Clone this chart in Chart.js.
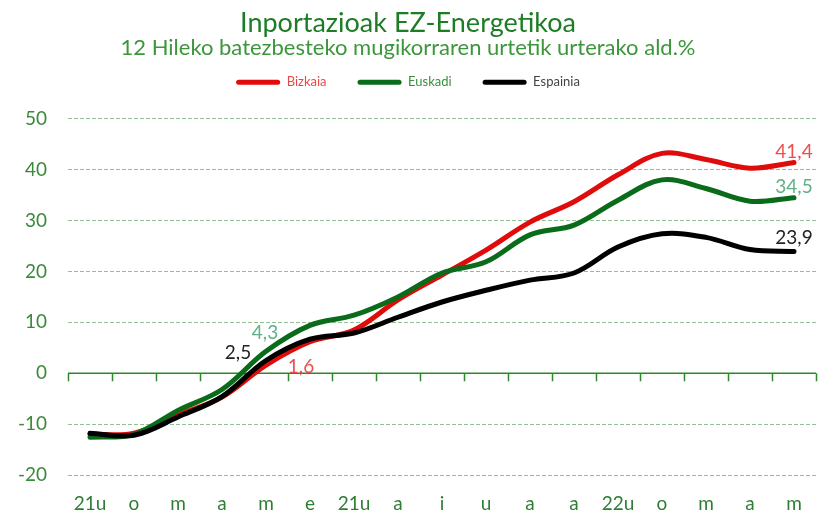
<!DOCTYPE html>
<html>
<head>
<meta charset="utf-8">
<script src="https://cdn.jsdelivr.net/npm/chart.js@4.4.1/dist/chart.umd.min.js"></script>
<style>
  html, body { margin: 0; padding: 0; background: #fff; }
</style>
</head>
<body>
<canvas id="myChart" width="819" height="516"></canvas>
<script>
// months, jan 2021 -> may 2022
var months = ['21u', 'o', 'm', 'a', 'm', 'e', '21u', 'a', 'i', 'u', 'a', 'a', '22u', 'o', 'm', 'a', 'm'];
var bizkaia = [-12.0, -11.8, -8.2, -4.7, 1.6, 6.2, 8.5, 14.4, 19.3, 24.2, 29.7, 33.7, 39.0, 43.2, 42.0, 40.3, 41.4];
var euskadi = [-12.6, -12.0, -7.3, -3.2, 4.3, 9.4, 11.4, 15.0, 19.7, 21.9, 27.2, 29.1, 34.0, 38.0, 36.3, 33.8, 34.5];
var espainia = [-11.8, -12.2, -8.6, -4.6, 2.5, 6.7, 7.9, 11.0, 14.0, 16.3, 18.3, 19.7, 24.8, 27.4, 26.7, 24.3, 23.9];
var yTicks = [-20, -10, 0, 10, 20, 30, 40, 50];

var FONT = 'Lato';

// zero line with little ticks between months
var zeroAxis = {
  id: 'zeroAxis',
  beforeDatasetsDraw: function(chart) {
    var ctx = chart.ctx, x = chart.scales.x, y = chart.scales.y;
    var y0 = y.getPixelForValue(0);
    var step = x.getPixelForValue(1) - x.getPixelForValue(0);
    ctx.save();
    ctx.strokeStyle = '#2a8a2a';
    ctx.lineWidth = 1.5;
    ctx.beginPath();
    ctx.moveTo(chart.chartArea.left, y0);
    ctx.lineTo(chart.chartArea.right, y0);
    for (var i = 0; i <= months.length; i++) {
      var px = Math.round(x.getPixelForValue(0) - step / 2 + i * step) + 0.5;
      ctx.moveTo(px, y0);
      ctx.lineTo(px, y0 + 8);
    }
    ctx.stroke();
    ctx.restore();
  }
};

// value labels on a few points
var pointLabels = {
  id: 'pointLabels',
  afterDatasetsDraw: function(chart) {
    var ctx = chart.ctx;
    ctx.save();
    ctx.font = '19px ' + FONT;
    ctx.textAlign = 'center';
    ctx.textBaseline = 'middle';
    chart.data.datasets.forEach(function(ds, d) {
      var meta = chart.getDatasetMeta(d);
      ds.valueLabels.forEach(function(l) {
        var pt = meta.data[l.i];
        ctx.fillStyle = ds.labelColor;
        ctx.fillText(ds.data[l.i].toFixed(1).replace('.', ','), pt.x + l.dx, pt.y + l.dy);
      });
    });
    ctx.restore();
  }
};

// legend needs some room below it
var legendSpace = {
  id: 'legendSpace',
  afterInit: function(chart) {
    var lg = chart.legend;
    var fit = lg.fit;
    lg.fit = function() {
      fit.call(this);
      this.height += 20;
    };
  }
};

var ctx = document.getElementById('myChart');
var config = {
  type: 'line',
  data: {
    labels: months,
    datasets: [
      {
        label: 'Bizkaia',
        data: bizkaia,
        borderColor: '#e00b0b',
        backgroundColor: '#e00b0b',
        textColor: '#e84848',
        labelColor: '#ee4d4d',
        valueLabels: [{ i: 4, dx: 35, dy: 2 }, { i: 16, dx: 0, dy: -11 }],
        order: 3
      },
      {
        label: 'Euskadi',
        data: euskadi,
        borderColor: '#0a6b1a',
        backgroundColor: '#0a6b1a',
        textColor: '#3a8f3a',
        labelColor: '#62b088',
        valueLabels: [{ i: 4, dx: -1, dy: -18 }, { i: 16, dx: 0, dy: -11 }],
        order: 2
      },
      {
        label: 'Espainia',
        data: espainia,
        borderColor: '#000000',
        backgroundColor: '#000000',
        textColor: '#444444',
        labelColor: '#222222',
        valueLabels: [{ i: 4, dx: -28, dy: -8 }, { i: 16, dx: 0, dy: -14 }],
        order: 1
      }
    ]
  },
  options: {
    responsive: false,
    maintainAspectRatio: false,
    animation: false,
    devicePixelRatio: 1,
    layout: { padding: { left: 0, right: 3, top: 0, bottom: 0 } },
    elements: {
      line: { tension: 0.35, borderWidth: 5, borderCapStyle: 'round', fill: false },
      point: { radius: 0, hoverRadius: 0 }
    },
    plugins: {
      title: {
        display: true,
        text: 'Inportazioak EZ-Energetikoa',
        color: '#1d7c25',
        font: { family: FONT, size: 27, weight: 'normal', lineHeight: 1.2 },
        padding: { top: 7, bottom: 0 }
      },
      subtitle: {
        display: true,
        text: '12 Hileko batezbesteko mugikorraren urtetik urterako ald.%',
        color: '#3c963c',
        font: { family: FONT, size: 22, weight: 'normal', lineHeight: 1.2 },
        padding: { top: -5, bottom: -16 }
      },
      legend: {
        display: true,
        labels: {
          boxWidth: 44,
          boxHeight: 5,
          padding: 31,
          font: { family: FONT, size: 13 },
          generateLabels: function(chart) {
            return chart.data.datasets.map(function(ds, i) {
              return {
                text: ds.label,
                fillStyle: ds.borderColor,
                strokeStyle: ds.borderColor,
                lineWidth: 0,
                fontColor: ds.textColor,
                borderRadius: 2.5,
                datasetIndex: i
              };
            });
          }
        }
      },
      tooltip: { enabled: false }
    },
    scales: {
      x: {
        offset: true,
        grid: { display: false },
        border: { display: false },
        afterFit: function(scale) { scale.height = 41; },
        ticks: {
          color: '#2e7d32',
          font: { family: FONT, size: 19 },
          autoSkip: false,
          maxRotation: 0,
          padding: 9
        }
      },
      y: {
        min: -20,
        max: 50,
        afterBuildTicks: function(scale) {
          scale.ticks = yTicks.map(function(v) { return { value: v }; });
        },
        afterFit: function(scale) { scale.width = 68; },
        border: { display: false, dash: [4, 2] },
        grid: {
          drawTicks: false,
          lineWidth: 1,
          color: function(c) { return c.tick && c.tick.value === 0 ? 'rgba(0,0,0,0)' : '#93c093'; }
        },
        ticks: {
          color: '#3b8a3b',
          font: { family: FONT, size: 19 },
          padding: 21
        }
      }
    }
  },
  plugins: [zeroAxis, pointLabels, legendSpace]
};
var myChart = new Chart(ctx, config);
</script>
</body>
</html>
